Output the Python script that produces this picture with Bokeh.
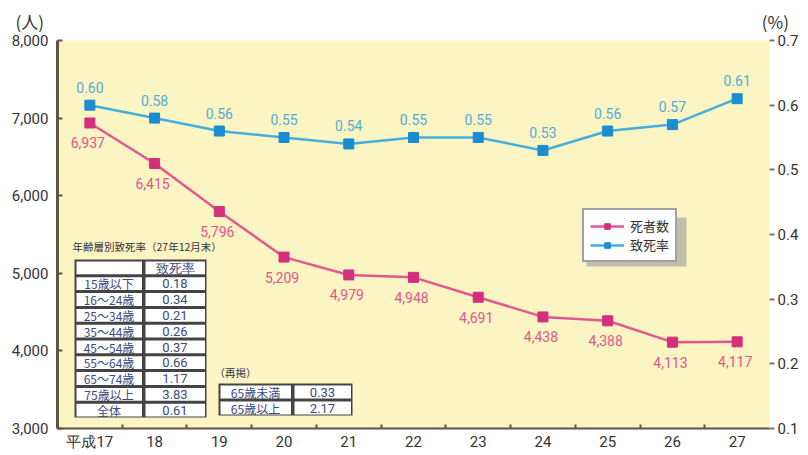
from bokeh.plotting import figure
from bokeh.models import (Range1d, LinearAxis, FixedTicker, NumeralTickFormatter,
                          Legend, LegendItem, Label, Title, ColumnDataSource)
from bokeh.core.properties import value
from bokeh.embed import file_html
from bokeh.resources import INLINE

# 年次（平成17〜27年）
years = [17, 18, 19, 20, 21, 22, 23, 24, 25, 26, 27]
year_labels = ["平成17", "18", "19", "20", "21", "22", "23", "24", "25", "26", "27"]
# 死者数（人）
deaths = [6937, 6415, 5796, 5209, 4979, 4948, 4691, 4438, 4388, 4113, 4117]
# 致死率（%）
fatality = [0.60, 0.58, 0.56, 0.55, 0.54, 0.55, 0.55, 0.53, 0.56, 0.57, 0.61]

# 年齢層別致死率（27年12月末）
age_groups = ["15歳以下", "16～24歳", "25～34歳", "35～44歳", "45～54歳",
              "55～64歳", "65～74歳", "75歳以上", "全体"]
age_rates = ["0.18", "0.34", "0.21", "0.26", "0.37", "0.66", "1.17", "3.83", "0.61"]
# 再掲
sub_groups = ["65歳未満", "65歳以上"]
sub_rates = ["0.33", "2.17"]

W, H = 808, 455
FL, FR, FT, FB = 57, 769, 40, 428   # frame edges in pixels
X0, X1 = 16.5, 27.5
Y0, Y1 = 3000, 8000
R0, R1 = 0.1, 0.7

PINK_LINE = "#E4578F"
PINK = "#D42F7C"
BLUE_LINE = "#45AEDF"
BLUE = "#1A8CD0"
YELLOW = "#FAF5C2"
DARK = "#333333"
NUM_FONT = "Roboto"
JP_FONT = "Noto Sans CJK JP"


def px_x(px):
    return X0 + (px - FL) * (X1 - X0) / (FR - FL)


def px_y(py):
    return Y1 - (py - FT) * (Y1 - Y0) / (FB - FT)


p = figure(width=W, height=H, output_backend="svg", toolbar_location=None,
           x_range=Range1d(X0, X1), y_range=Range1d(Y0, Y1),
           min_border_left=FL, min_border_right=W - FR,
           min_border_top=FT, min_border_bottom=H - FB)
p.extra_y_ranges = {"rate": Range1d(R0, R1)}
p.background_fill_color = YELLOW
p.border_fill_color = "white"
p.outline_line_color = None
p.xgrid.visible = False
p.ygrid.visible = False

# unit captions of both value axes, one header line above the frame
units = Title(text="(人)" + "\u3000" * 42 + "\u00a0" + "(%)", align="left",
              offset=-42, standoff=13, text_font=JP_FONT, text_font_size="17px",
              text_font_style="normal", text_color=DARK)
p.add_layout(units, "above")

# left axis (人)
ya = p.yaxis[0]
ya.ticker = FixedTicker(ticks=[3000, 4000, 5000, 6000, 7000, 8000])
ya.formatter = NumeralTickFormatter(format="0,0")
ya.axis_line_color = "#5a5444"
ya.axis_line_width = 3
ya.major_tick_in = 5
ya.major_tick_out = 0
ya.major_tick_line_color = "#5a5444"
ya.major_tick_line_width = 2
ya.minor_tick_line_color = None
ya.major_label_standoff = 9
ya.major_label_text_font = NUM_FONT
ya.major_label_text_font_size = "15px"
ya.major_label_text_color = DARK

# bottom axis (years)
xa = p.xaxis[0]
xa.ticker = FixedTicker(ticks=years, minor_ticks=[y + 0.5 for y in years[:-1]])
xa.major_label_overrides = {y: lab for y, lab in zip(years, year_labels)}
xa.axis_line_color = "#5a5444"
xa.axis_line_width = 2
xa.major_tick_line_color = None
xa.major_tick_in = 0
xa.major_tick_out = 0
xa.minor_tick_in = 4
xa.minor_tick_out = 0
xa.minor_tick_line_color = "#5a5444"
xa.minor_tick_line_width = 2
xa.major_label_standoff = 4
xa.major_label_text_font = NUM_FONT
xa.major_label_text_font_size = "15px"
xa.major_label_text_color = DARK

# right axis (%)
ra = LinearAxis(y_range_name="rate",
                ticker=FixedTicker(ticks=[0.1, 0.2, 0.3, 0.4, 0.5, 0.6, 0.7]))
ra.major_label_overrides = {t: f"{t:.1f}" for t in [0.1, 0.2, 0.3, 0.4, 0.5, 0.6, 0.7]}
ra.axis_line_color = None
ra.major_tick_in = 0
ra.major_tick_out = 5
ra.major_tick_line_color = "#777777"
ra.major_tick_line_width = 2
ra.minor_tick_line_color = None
ra.major_label_standoff = 3
ra.major_label_text_font = NUM_FONT
ra.major_label_text_font_size = "15px"
ra.major_label_text_color = DARK
p.add_layout(ra, "right")

# series
src = ColumnDataSource(dict(
    year=years, deaths=deaths, fatality=fatality,
    dlab=[f"{d:,}" for d in deaths], flab=[f"{f:.2f}" for f in fatality]))

l_rate = p.line("year", "fatality", source=src, y_range_name="rate",
                line_color=BLUE_LINE, line_width=2.5)
s_rate = p.scatter("year", "fatality", source=src, y_range_name="rate",
                   marker="square", size=10, fill_color=BLUE, line_color=BLUE)
l_death = p.line("year", "deaths", source=src, line_color=PINK_LINE, line_width=2.5)
s_death = p.scatter("year", "deaths", source=src, marker="square", size=10,
                    fill_color=PINK, line_color=PINK)

p.text("year", "deaths", text="dlab", source=src, x_offset=-2, y_offset=20,
       text_align="center", text_baseline="middle", text_color="#E5558A",
       text_font=value(NUM_FONT), text_font_size="14px")
p.text("year", "fatality", text="flab", source=src, y_range_name="rate",
       y_offset=-18, text_align="center", text_baseline="middle",
       text_color="#55ABDA", text_font=value(NUM_FONT), text_font_size="14px")


# small tables of age-group fatality rates
def draw_table(left, right, split, top, row_h, rows):
    n = len(rows)
    bottom = top + n * row_h
    p.quad(left=[px_x(left)], right=[px_x(right)], top=[px_y(top)],
           bottom=[px_y(bottom)], fill_color="#444444", line_color=None)
    lx, rx, tp, bt = [], [], [], []
    for i in range(n):
        t = top + i * row_h
        for a, b in ((left, split), (split, right)):
            lx.append(px_x(a + 2))
            rx.append(px_x(b - 1.5))
            tp.append(px_y(t + 2))
            bt.append(px_y(t + row_h - 1))
    p.quad(left=lx, right=rx, top=tp, bottom=bt, fill_color="white", line_color=None)
    cx1 = [px_x((left + split) / 2)] * n
    cx2 = [px_x((split + right) / 2)] * n
    cy = [px_y(top + (i + 0.55) * row_h) for i in range(n)]
    p.text(cx1, cy, text=[r[0] for r in rows], text_align="center",
           text_baseline="middle", text_color="#3c4a80",
           text_font=value(JP_FONT), text_font_size="12px")
    p.text(cx2, cy, text=[r[1] for r in rows], text_align="center",
           text_baseline="middle", text_color="#3c4a80",
           text_font=value(NUM_FONT), text_font_size="13px")


draw_table(74, 206, 143, 259, 15.8, [("", "致死率")] + list(zip(age_groups, age_rates)))
p.add_layout(Label(x=px_x(72), y=px_y(246), text="年齢層別致死率（27年12月末）",
                   text_font=JP_FONT, text_font_size="10.5px", text_color="#333344",
                   text_baseline="middle"))

draw_table(218, 352, 292, 383, 16, list(zip(sub_groups, sub_rates)))
p.add_layout(Label(x=px_x(214), y=px_y(372), text="（再掲）",
                   text_font=JP_FONT, text_font_size="10.5px", text_color="#333344",
                   text_baseline="middle"))

# legend with a soft drop shadow
p.quad(left=[px_x(586)], right=[px_x(686)], top=[px_y(217)], bottom=[px_y(266)],
       fill_color="#999999", fill_alpha=0.6, line_color=None)
legend = Legend(items=[LegendItem(label="死者数", renderers=[l_death, s_death]),
                       LegendItem(label="致死率", renderers=[l_rate, s_rate])],
                location=(525, 166))
legend.background_fill_color = "white"
legend.background_fill_alpha = 1.0
legend.border_line_color = "#444444"
legend.border_line_width = 2
legend.label_text_font = JP_FONT
legend.label_text_font_size = "13px"
legend.label_text_color = DARK
legend.glyph_width = 34
legend.glyph_height = 14
legend.label_standoff = 6
legend.padding = 6
legend.spacing = 0
legend.margin = 0
p.add_layout(legend)

open("out.html", "w").write(file_html(p, INLINE))
